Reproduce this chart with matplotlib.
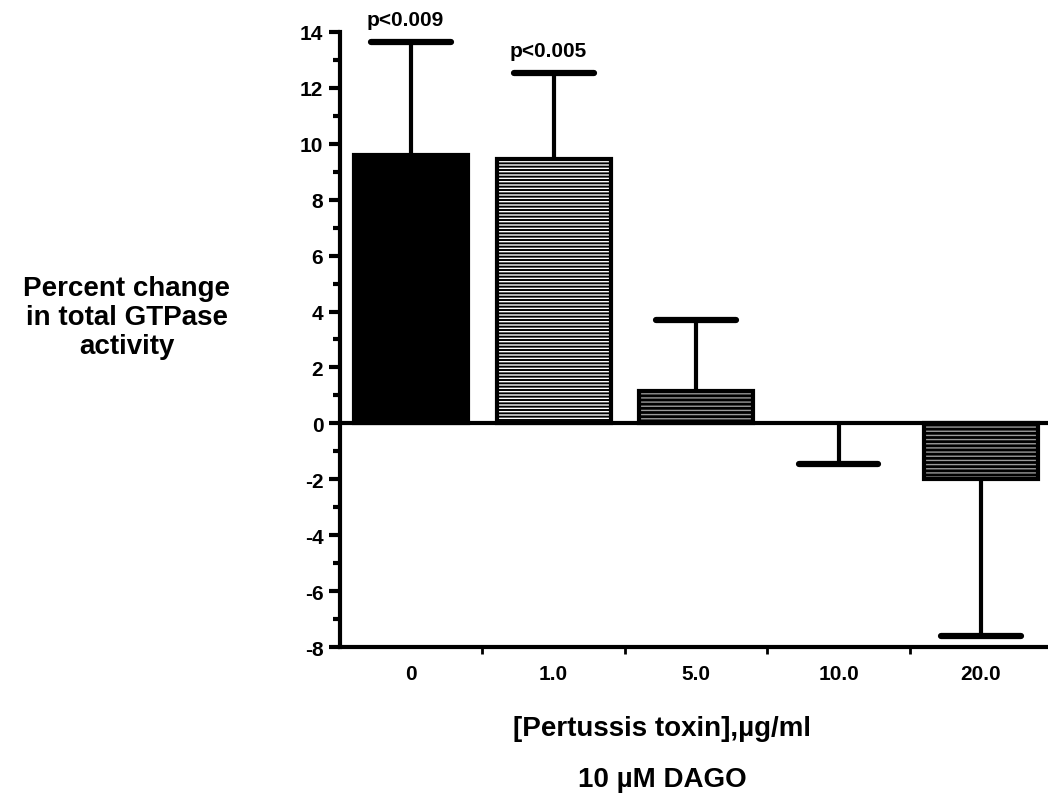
import matplotlib.pyplot as plt
import numpy as np

plt.rcParams['font.family'] = ['Liberation Sans', 'DejaVu Sans']
plt.rcParams['font.weight'] = 'bold'
plt.rcParams['axes.unicode_minus'] = False
plt.rcParams['hatch.linewidth'] = 1.0

categories = ['0', '1.0', '5.0', '10.0', '20.0']
values = [9.6, 9.45, 1.15, 0.0, -2.0]
errors = [4.05, 3.1, 2.55, 1.45, 5.6]
p_labels = ['p<0.009', 'p<0.005', '', '', '']
ylabel_lines = ['Percent change', 'in total GTPase', 'activity']
xlabel_lines = ['[Pertussis toxin],\u00b5g/ml', '10 \u00b5M DAGO']

fig = plt.figure(figsize=(10.48, 8.04), dpi=100)
ax = fig.add_axes([0.3244, 0.194, 0.6756, 0.765])

x = np.arange(len(categories))
lw = 3

# solid black first bar, hatched (white lines on black) for the rest
hatches = [None, '-----', '----', None, '----']
hatch_cols = [None, 'white', '#9a9a9a', None, '#9a9a9a']
for i, (v, h, hc) in enumerate(zip(values, hatches, hatch_cols)):
    if v == 0:
        continue
    if h is None:
        ax.bar(x[i], v, width=0.8, color='black', edgecolor='black', linewidth=lw, zorder=2)
    else:
        ax.bar(x[i], v, width=0.8, color='black', edgecolor=hc, hatch=h, linewidth=0, zorder=2)
        ax.bar(x[i], v, width=0.8, fill=False, edgecolor='black', linewidth=lw, zorder=3)

# one-sided error bars, pointing away from zero
for i, (v, e) in enumerate(zip(values, errors)):
    end = v + e if (v > 0) else v - e
    ax.vlines(x[i], v, end, color='black', linewidth=lw, zorder=1)
    ax.hlines(end, x[i] - 0.28, x[i] + 0.28, color='black', linewidth=4.5,
              capstyle='round', zorder=1)

for i, (v, e, p) in enumerate(zip(values, errors, p_labels)):
    if p:
        ax.text(x[i] - 0.04, v + e + 0.45, p, ha='center', va='bottom',
                fontsize=15, fontweight='bold')

ax.axhline(0, color='black', linewidth=lw, zorder=4)

ax.set_xlim(-0.5, 4.47)
ax.set_ylim(-8, 14)
ax.set_yticks(np.arange(-8, 15, 2))
ax.set_yticks(np.arange(-7, 14, 2), minor=True)
ax.set_xticks(x)
ax.set_xticklabels(categories)
ax.set_xticks(x[:-1] + 0.5, minor=True)

for s in ['top', 'right']:
    ax.spines[s].set_visible(False)
for s in ['left', 'bottom']:
    ax.spines[s].set_linewidth(lw)

ax.tick_params(axis='y', which='major', length=8, width=3, labelsize=15, pad=4)
ax.tick_params(axis='y', which='minor', length=5, width=3)
ax.tick_params(axis='x', which='major', length=0, labelsize=15, pad=12)
ax.tick_params(axis='x', which='minor', length=5, width=2)
for lab in ax.get_xticklabels() + ax.get_yticklabels():
    lab.set_fontweight('bold')

for k, line in enumerate(ylabel_lines):
    fig.text(0.121, 1 - (296 + 29 * k) / 804, line, ha='center', va='baseline',
             fontsize=20, fontweight='bold')
for k, line in enumerate(xlabel_lines):
    fig.text(0.632, 1 - (736 + 51 * k) / 804, line, ha='center', va='baseline',
             fontsize=20, fontweight='bold')

fig.savefig('out.png', dpi=100)
